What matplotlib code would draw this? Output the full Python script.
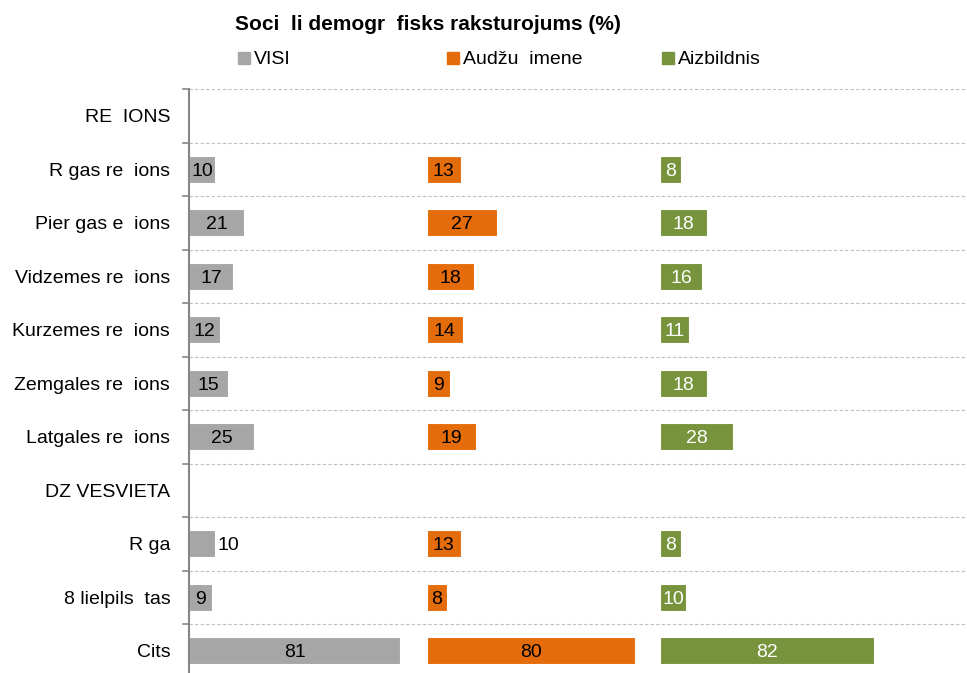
import matplotlib.pyplot as plt
from matplotlib.patches import Rectangle

# Dati (trūkstošie burti atstāti kā attēlā)
categories = ["RE  IONS", "R gas re  ions", "Pier gas e  ions", "Vidzemes re  ions",
              "Kurzemes re  ions", "Zemgales re  ions", "Latgales re  ions",
              "DZ VESVIETA", "R ga", "8 lielpils  tas", "Cits"]
visi = [None, 10, 21, 17, 12, 15, 25, None, 10, 9, 81]
audzu = [None, 13, 27, 18, 14, 9, 19, None, 13, 8, 80]
aizb = [None, 8, 18, 16, 11, 18, 28, None, 8, 10, 82]
series_names = ["VISI", "Audžu  imene", "Aizbildnis"]
title = "Soci  li demogr  fisks raksturojums (%)"

colors = ["#A6A6A6", "#E46C0A", "#77933C"]
label_colors = ["black", "black", "white"]
offsets = [0, 91, 180.5]

plt.rcParams['font.family'] = ['Liberation Sans Narrow', 'Liberation Sans', 'DejaVu Sans']

fig = plt.figure(figsize=(9.67, 6.73), dpi=100)
ax = fig.add_axes([189 / 967, 0, 1 - 189 / 967, 1 - 89 / 673])

ypos = list(range(len(categories)))
for s, (vals, col, lc, off) in enumerate(zip([visi, audzu, aizb], colors, label_colors, offsets)):
    for y, v in zip(ypos, vals):
        if v is None:
            continue
        ax.barh(y, v, left=off, height=0.5, color=col, edgecolor='white', linewidth=0.8)
        if s == 0 and categories[y] == "R ga":
            ax.text(off + v + 0.8, y, str(v), ha='left', va='center_baseline', fontsize=14, color=lc)
        else:
            ax.text(off + v / 2, y, str(v), ha='center', va='center_baseline', fontsize=14, color=lc)

ax.set_xlim(0, 298)
ax.set_ylim(-0.5 + 584 / 53.5, -0.5)
ax.set_yticks(ypos)
ax.set_yticklabels(categories, fontsize=14)
ax.tick_params(axis='y', length=0, pad=13.5)
for lbl in ax.get_yticklabels():
    lbl.set_verticalalignment('center_baseline')
ax.set_xticks([])

# robežlīnijas starp kategorijām
for b in [i - 0.5 for i in range(len(categories) + 1)]:
    ax.axhline(b, color='#BFBFBF', linestyle=(0, (3, 2)), linewidth=0.8, zorder=0)
    ax.plot([-2.3, 0], [b, b], color='#868686', linewidth=1.2, clip_on=False)

for sp in ['top', 'right', 'bottom']:
    ax.spines[sp].set_visible(False)
ax.spines['left'].set_color('#868686')
ax.spines['left'].set_linewidth(1.5)

fig.text(428 / 967, 1 - 22 / 673, title, ha='center', va='center_baseline', fontsize=15, fontweight='bold')

leg_x = [238, 447, 662]
for x, name, col in zip(leg_x, series_names, colors):
    fig.patches.append(Rectangle((x / 967, 1 - 64 / 673), 12 / 967, 12 / 673,
                                 transform=fig.transFigure, color=col))
    fig.text((x + 16) / 967, 1 - 58 / 673, name, ha='left', va='center_baseline', fontsize=14)

fig.savefig("out.png", dpi=100)
